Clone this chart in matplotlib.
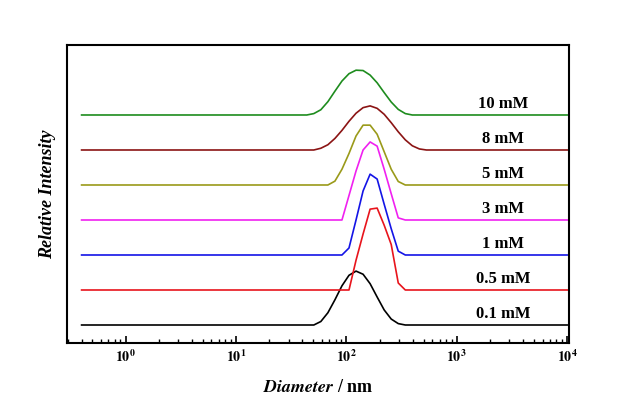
import matplotlib
matplotlib.use("Agg")
import matplotlib.pyplot as plt
from matplotlib.ticker import FixedLocator, FixedFormatter, LogLocator, NullFormatter

plt.rcParams['font.family'] = ['Liberation Serif', 'DejaVu Serif']
plt.rcParams['mathtext.fontset'] = 'stix'

# DLS size bins (nm) where the peaks sit
bins = [43.82, 50.75, 58.77, 68.06, 78.82, 91.28, 105.7, 122.4, 141.8,
        164.2, 190.1, 220.2, 255.0, 295.3, 342.0, 396.1, 458.7, 531.2]

labels = ['0.1 mM', '0.5 mM', '1 mM', '3 mM', '5 mM', '8 mM', '10 mM']
colors = ['#000000', '#e8141c', '#1414e6', '#f020f0', '#9a9a1a', '#8b1414', '#1e8c1e']

# relative intensity per bin (same order as bins)
i_01 = [0, 0, 0.10, 0.35, 0.72, 1.12, 1.42, 1.54, 1.45, 1.18, 0.80, 0.43, 0.17, 0.04, 0, 0, 0, 0]
i_05 = [0, 0, 0, 0, 0, 0, 0, 0.85, 1.60, 2.31, 2.34, 1.85, 1.30, 0.20, 0, 0, 0, 0]
i_1 = [0, 0, 0, 0, 0, 0, 0.20, 1.00, 1.83, 2.31, 2.17, 1.45, 0.75, 0.11, 0, 0, 0, 0]
i_3 = [0, 0, 0, 0, 0, 0, 0.70, 1.40, 2.00, 2.23, 2.11, 1.45, 0.75, 0.06, 0, 0, 0, 0]
i_5 = [0, 0, 0, 0, 0.11, 0.45, 0.90, 1.40, 1.71, 1.71, 1.45, 0.95, 0.45, 0.10, 0, 0, 0, 0]
i_8 = [0, 0, 0.05, 0.15, 0.33, 0.56, 0.82, 1.05, 1.21, 1.26, 1.19, 1.02, 0.78, 0.52, 0.29, 0.12, 0.03, 0]
i_10 = [0, 0.04, 0.15, 0.38, 0.68, 0.97, 1.18, 1.28, 1.27, 1.14, 0.92, 0.64, 0.37, 0.16, 0.04, 0, 0, 0]
series = [i_01, i_05, i_1, i_3, i_5, i_8, i_10]

d_min, d_max = 0.4, 10000.0

fig = plt.figure(figsize=(6.18, 4.12), dpi=100)
ax = fig.add_axes([0.1084, 0.1675, 0.8116, 0.7233])

for k, (lab, col, vals) in enumerate(zip(labels, colors, series)):
    x = [d_min] + bins + [d_max]
    y = [k] + [k + v for v in vals] + [k]
    ax.plot(x, y, color=col, lw=1.2)
    ax.text(2630, k + 0.32, lab, ha='center', va='center',
            fontsize=12, fontweight='bold')

ax.set_xscale('log')
ax.set_xlim(0.295, 10300)
ax.set_ylim(-0.514, 8.0)
ax.set_yticks([])

ax.xaxis.set_major_locator(FixedLocator([1, 10, 100, 1000, 10000]))
ax.xaxis.set_major_formatter(FixedFormatter([r'$\mathbf{10^{%d}}$' % e for e in range(5)]))
ax.xaxis.set_minor_locator(LogLocator(base=10, subs=range(2, 10), numticks=20))
ax.xaxis.set_minor_formatter(NullFormatter())
ax.tick_params(axis='x', which='major', direction='in', length=5, width=1.2, labelsize=10, pad=4)
ax.tick_params(axis='x', which='minor', direction='in', length=3, width=1.0)

for s in ax.spines.values():
    s.set_linewidth(1.5)

ax.set_xlabel(r'$\mathbfit{Diameter}$ / nm', fontsize=13, fontweight='bold', labelpad=10)
ax.set_ylabel('Relative Intensity', fontsize=13, fontweight='bold', style='italic', labelpad=8)

fig.savefig('out.png', dpi=100)
